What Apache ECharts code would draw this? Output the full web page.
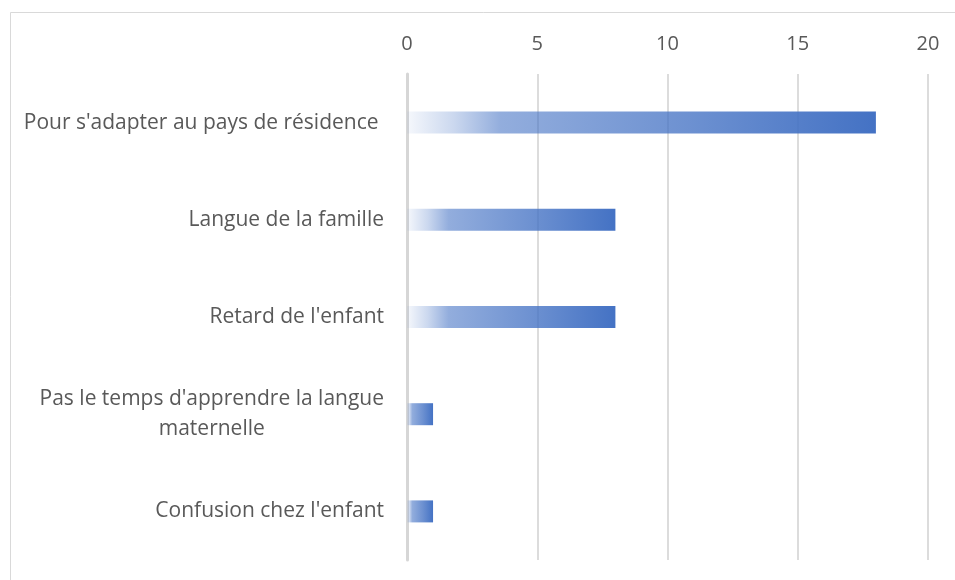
<!DOCTYPE html>
<html>
<head>
<meta charset="utf-8">
<script src="https://cdn.jsdelivr.net/npm/echarts@6/dist/echarts.min.js"></script>
<style>
  html, body { margin: 0; padding: 0; background: #fff; }
  #chart { width: 955px; height: 580px; }
</style>
</head>
<body>
<div id="chart"></div>
<script>
// categories, top to bottom
const categories = [
  "Pour s'adapter au pays de résidence ",
  'Langue de la famille',
  "Retard de l'enfant",
  "Pas le temps d'apprendre la langue\nmaternelle",
  "Confusion chez l'enfant"
]
const values = [18, 8, 8, 1, 1]
const xTicks = [0, 5, 10, 15, 20]

const blue = 'rgba(68, 114, 196, '
const barFill = new echarts.graphic.LinearGradient(0, 0, 1, 0, [
  { offset: 0, color: blue + '0.05)' },
  { offset: 0.1, color: blue + '0.28)' },
  { offset: 0.2, color: blue + '0.58)' },
  { offset: 0.6, color: blue + '0.78)' },
  { offset: 1, color: blue + '1)' }
])

const chart = echarts.init(document.getElementById('chart'))

chart.setOption({
  animation: false,
  backgroundColor: '#ffffff',
  textStyle: { fontFamily: 'Open Sans', color: '#595959' },
  graphic: [
    {
      type: 'rect',
      shape: { x: 10.5, y: 12.5, width: 1200, height: 1200 },
      style: { fill: 'none', stroke: '#d9d9d9', lineWidth: 1 },
      silent: true
    }
  ],
  grid: {
    left: 407,
    right: 27,
    top: 74,
    bottom: 20
  },
  xAxis: {
    type: 'value',
    position: 'top',
    min: xTicks[0],
    max: xTicks[xTicks.length - 1],
    interval: xTicks[1] - xTicks[0],
    axisLine: { show: false },
    axisTick: { show: false },
    axisLabel: {
      fontSize: 20,
      color: '#595959',
      margin: 20
    },
    splitLine: {
      show: true,
      lineStyle: { color: '#d0d0d0', width: 1.5 }
    }
  },
  yAxis: {
    type: 'category',
    inverse: true,
    data: categories,
    axisLine: {
      show: true,
      lineStyle: { color: '#d6d6d6', width: 3 }
    },
    axisTick: { show: false },
    axisLabel: {
      margin: 23,
      fontSize: 21,
      color: '#595959',
      lineHeight: 30,
      formatter: function (v) {
        return v.split('\n').map(s => '{c|' + s + '}').join('\n')
      },
      rich: {
        c: { align: 'center', fontSize: 21, color: '#595959', lineHeight: 30 }
      }
    }
  },
  series: [
    {
      type: 'bar',
      data: values,
      barWidth: 22,
      itemStyle: { color: barFill }
    }
  ]
})
</script>
</body>
</html>
